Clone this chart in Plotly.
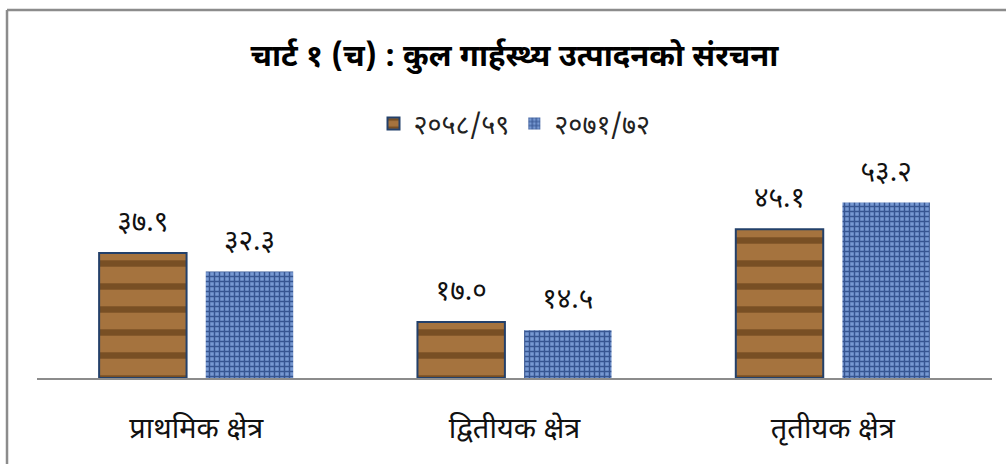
import plotly.graph_objects as go

# Sector shares of GDP (percent)
categories = ["प्राथमिक क्षेत्र", "द्वितीयक क्षेत्र", "तृतीयक क्षेत्र"]
series_names = ["२०५८/५९", "२०७१/७२"]
values_2058 = [37.9, 17.0, 45.1]
values_2071 = [32.3, 14.5, 53.2]

DEV_DIGITS = str.maketrans("0123456789", "०१२३४५६७८९")


def dev(v):
    return f"{v:.1f}".translate(DEV_DIGITS)


FONT = "Noto Sans Devanagari, Lohit Devanagari, FreeSans, Mangal, sans-serif"

styles = [
    dict(color="#9C6631",
         line=dict(color="#23406A", width=2),
         pattern=dict(shape="-", bgcolor="#A5733E", fgcolor="#5A3612",
                      fgopacity=0.6, size=23, solidity=0.28,
                      fillmode="overlay")),
    dict(color="#7496D0",
         line=dict(width=0),
         pattern=dict(shape="+", bgcolor="#7799D2", fgcolor="#2A4886",
                      fgopacity=0.85, size=5, solidity=0.5,
                      fillmode="overlay")),
]

fig = go.Figure()
for i, (name, vals) in enumerate(zip(series_names, [values_2058, values_2071])):
    fig.add_trace(go.Bar(
        name=name, x=categories, y=vals, marker=styles[i],
        offsetgroup=str(i), hoverinfo="x+y",
    ))
for i, (name, vals) in enumerate(zip(series_names, [values_2058, values_2071])):
    # value labels, lifted clear of the bar tops by an invisible marker
    fig.add_trace(go.Scatter(
        x=categories, y=vals, mode="markers+text",
        text=[dev(v) for v in vals], textposition="top center",
        textfont=dict(size=28, color="#111111", family=FONT),
        marker=dict(size=22, color="rgba(0,0,0,0)"),
        offsetgroup=str(i), showlegend=False, hoverinfo="skip",
        cliponaxis=False,
    ))

fig.update_layout(
    width=1006, height=464,
    margin=dict(l=37, r=14, t=114, b=86),
    paper_bgcolor="white", plot_bgcolor="white",
    barmode="group", bargap=0.33, bargroupgap=0.18,
    scattermode="group", scattergap=0.33,
    font=dict(family=FONT, color="#111111"),
    title=dict(
        text="<b>चार्ट १ (च) : कुल गार्हस्थ्य उत्पादनको संरचना</b>",
        x=0.5, xref="paper", xanchor="center",
        y=1 - 55 / 464, yref="container", yanchor="middle",
        font=dict(size=31, family=FONT, color="#000000"),
    ),
    legend=dict(
        orientation="h", x=0.5, xanchor="center", y=0.962, yanchor="middle",
        font=dict(size=27, family=FONT, color="#222222"),
        itemwidth=30, bgcolor="rgba(0,0,0,0)",
    ),
    showlegend=True,
    xaxis=dict(
        showline=True, linecolor="#8C8C8C", linewidth=2,
        ticks="", showgrid=False, zeroline=False,
        tickfont=dict(size=29, family=FONT, color="#111111"),
        ticklabelstandoff=23,
    ),
    yaxis=dict(
        range=[0, 80], visible=False, showgrid=False, zeroline=False,
    ),
    shapes=[
        dict(type="line", xref="paper", yref="paper",
             x0=-0.0314, x1=1.2, y0=1.394, y1=1.394,
             line=dict(color="#8C8C8C", width=2.5)),
        dict(type="line", xref="paper", yref="paper",
             x0=-0.0314, x1=-0.0314, y0=1.394, y1=-0.6,
             line=dict(color="#8C8C8C", width=2.5)),
    ],
)

fig.write_html("out.html")
